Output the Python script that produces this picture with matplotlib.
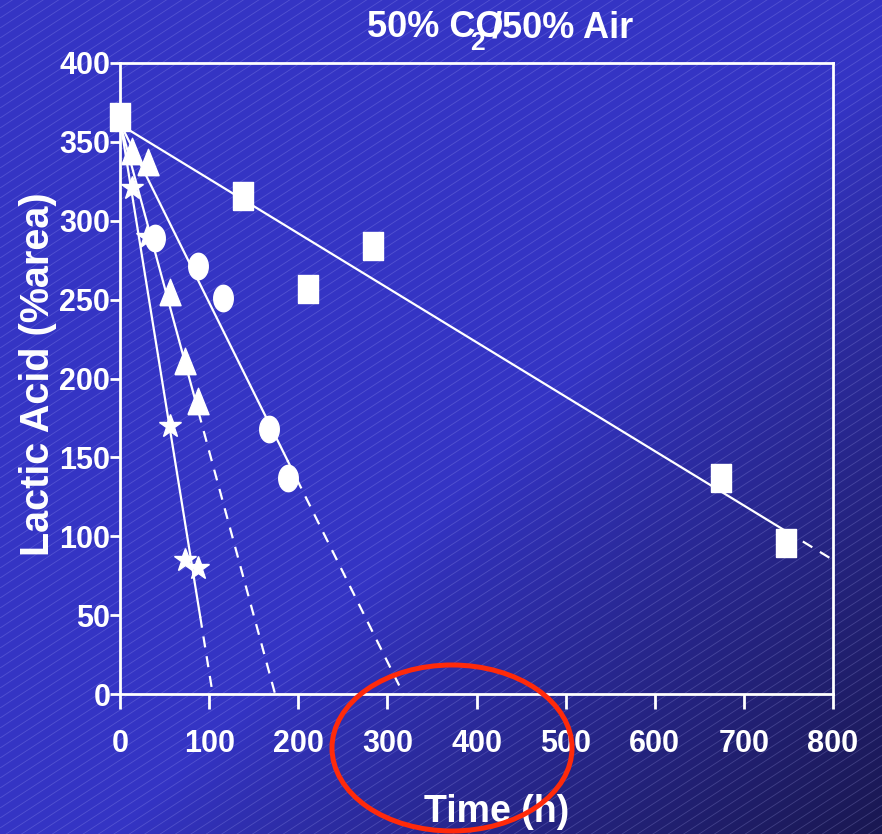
import numpy as np
import matplotlib
matplotlib.use("Agg")
import matplotlib.pyplot as plt
from matplotlib.patches import Ellipse
from matplotlib.collections import LineCollection
from matplotlib.path import Path

# ---------------- data ----------------
sq_t = [0, 138, 211, 284, 674, 747]
sq_y = [366, 316, 257, 284, 137, 96]

tri_t = [14, 31, 56, 73, 88]
tri_y = [344, 337, 255, 211, 186]

cir_t = [39, 88, 116, 167, 188]
cir_y = [289, 271, 251, 168, 137]

star_t = [14, 30, 56, 73, 88]
star_y = [321, 290, 170, 85, 80]

# fitted lines: (intercept at t=0, end of solid part, end time, value at end)
sq_line = (361, 747, 800, 85)
tri_line = (362, 88, 174, 0)
cir_line = (362, 188, 318, 0)
star_line = (364, 90, 104, 0)

x_ticks = [0, 100, 200, 300, 400, 500, 600, 700, 800]
y_ticks = [0, 50, 100, 150, 200, 250, 300, 350, 400]

W, H = 882, 834
FONT = "Liberation Sans"

fig = plt.figure(figsize=(W / 100, H / 100), dpi=100)

# ---------------- background ----------------
bg = fig.add_axes([0, 0, 1, 1], zorder=-5)
bg.set_xlim(0, W)
bg.set_ylim(H, 0)
bg.axis("off")
yy, xx = np.mgrid[0:H, 0:W]
t = np.clip((xx + yy - 950) / 760.0, 0, 1) ** 0.9
bright = np.array([52, 52, 196]) / 255.0
dark = np.array([26, 24, 82]) / 255.0
img = bright[None, None, :] * (1 - t[..., None]) + dark[None, None, :] * t[..., None]
bg.imshow(img, extent=[0, W, H, 0], aspect="auto", interpolation="bilinear")
ang = np.deg2rad(33)
segs = []
step = 10
for c in np.arange(-W, H + W, step):
    x0, x1 = 0, W
    segs.append([(x0, c - np.tan(ang) * x0), (x1, c - np.tan(ang) * x1)])
bg.add_collection(LineCollection(segs, colors=(0.75, 0.75, 1.0, 0.22), linewidths=0.6))

# ---------------- main axes ----------------
ax = fig.add_axes([120 / W, (H - 694) / H, 713 / W, 631 / H], zorder=1)
ax.set_facecolor("none")
ax.set_xlim(0, 800)
ax.set_ylim(0, 400)
for s in ax.spines.values():
    s.set_color("white")
    s.set_linewidth(2.0)

ax.set_xticks(x_ticks)
ax.set_yticks(y_ticks)
ax.tick_params(axis="x", colors="white", length=11, width=2, direction="out", pad=14)
ax.tick_params(axis="y", colors="white", length=7, width=2, direction="out", pad=0)
for lab in ax.get_xticklabels() + ax.get_yticklabels():
    lab.set_fontfamily(FONT)
    lab.set_fontweight("bold")
    lab.set_fontsize(22)
    lab.set_color("white")


def draw_fit(params):
    b, t_solid, t_end, y_end = params
    slope = (y_end - b) / t_end
    ts = np.array([0, t_solid])
    ax.plot(ts, b + slope * ts, color="white", lw=1.6, zorder=3, clip_on=False)
    td = np.array([t_solid, t_end])
    ax.plot(td, b + slope * td, color="white", lw=1.6, ls=(0, (5, 4)), zorder=3, clip_on=False)


for p in (sq_line, tri_line, cir_line, star_line):
    draw_fit(p)

rect = Path([(-0.35, -0.5), (0.35, -0.5), (0.35, 0.5), (-0.35, 0.5), (-0.35, -0.5)])
theta = np.linspace(0, 2 * np.pi, 60)
ell = Path(np.column_stack([0.37 * np.cos(theta), 0.5 * np.sin(theta)]))
tri = Path([(-0.4, -0.5), (0.4, -0.5), (0, 0.5), (-0.4, -0.5)])

ax.plot(star_t, star_y, ls="none", marker="*", ms=17, color="white", mec="white", zorder=4, clip_on=False)
ax.plot(cir_t, cir_y, ls="none", marker=ell, ms=19, color="white", mec="white", zorder=5, clip_on=False)
ax.plot(tri_t, tri_y, ls="none", marker=tri, ms=19, color="white", mec="white", zorder=5, clip_on=False)
ax.plot(sq_t, sq_y, ls="none", marker=rect, ms=20, color="white", mec="white", zorder=5, clip_on=False)

# ---------------- texts ----------------
fig.text(38 / W, (H - 374) / H, "Lactic Acid (%area)", rotation=90, ha="center", va="center",
         fontsize=28.5, fontweight="bold", color="white", family=FONT)
fig.text(497 / W, (H - 822) / H, "Time (h)", ha="center", va="baseline",
         fontsize=27, fontweight="bold", color="white", family=FONT)
fig.text(367 / W, (H - 37) / H, "50% CO", ha="left", va="baseline",
         fontsize=26, fontweight="bold", color="white", family=FONT)
fig.text(633 / W, (H - 37) / H, "/50% Air", ha="right", va="baseline",
         fontsize=26, fontweight="bold", color="white", family=FONT)
fig.text(477 / W, (H - 50) / H, "2", ha="center", va="baseline",
         fontsize=19, fontweight="bold", color="white", family=FONT)

# ---------------- red ellipse overlay ----------------
ov = fig.add_axes([0, 0, 1, 1], zorder=10)
ov.set_xlim(0, W)
ov.set_ylim(H, 0)
ov.axis("off")
ov.patch.set_alpha(0)
ov.add_patch(Ellipse((452, 748), 240, 166, fill=False, ec="#ff2a0a", lw=3.6))

fig.savefig("out.png", dpi=100)
